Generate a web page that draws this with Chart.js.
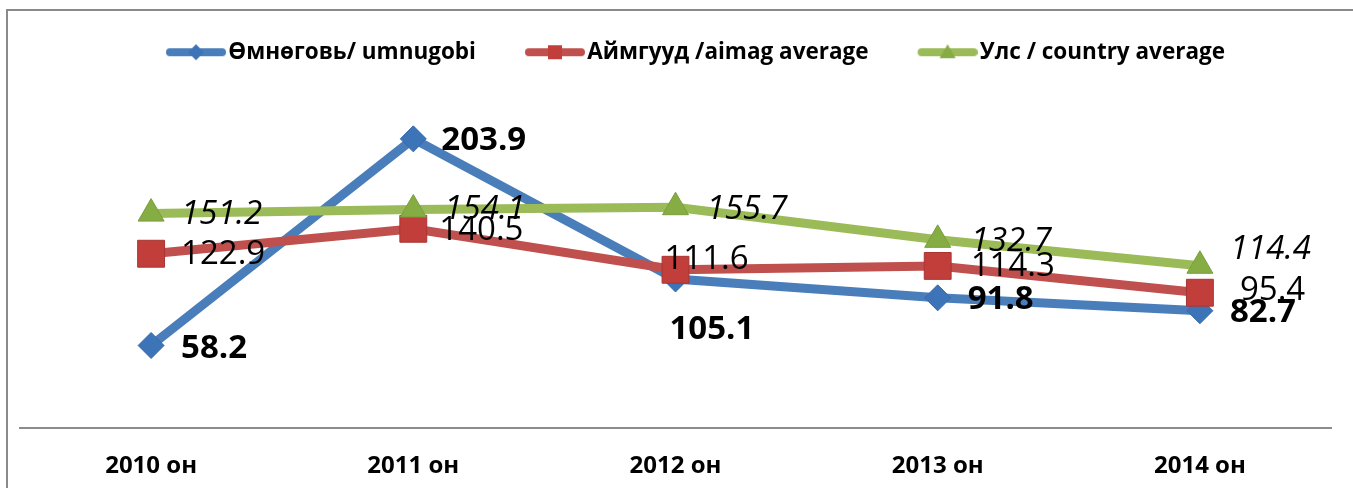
<!DOCTYPE html>
<html>
<head>
<meta charset="utf-8">
<script src="https://cdn.jsdelivr.net/npm/chart.js@4.4.1/dist/chart.umd.min.js"></script>
<style>
  html, body { margin: 0; padding: 0; background: #fff; overflow: hidden; }
  canvas { display: block; }
</style>
</head>
<body>
<canvas id="myChart" width="1353" height="488"></canvas>
<script>
const categories = ["2010 он", "2011 он", "2012 он", "2013 он", "2014 он"];
const umnugobi = [58.2, 203.9, 105.1, 91.8, 82.7];
const aimagAverage = [122.9, 140.5, 111.6, 114.3, 95.4];
const countryAverage = [151.2, 154.1, 155.7, 132.7, 114.4];
const seriesNames = ["Өмнөговь/ umnugobi", "Аймгууд /aimag average", "Улс / country average"];

const ctx = document.getElementById("myChart");
const fuente = "'Open Sans', 'Noto Sans', sans-serif";

// muestra de leyenda: linea gruesa con el marcador en medio
const muestraLeyenda = (color, marcador, forma) => {
  const c = document.createElement("canvas");
  c.width = 111;
  c.height = 24;
  const g = c.getContext("2d");
  g.strokeStyle = color;
  g.lineWidth = 8;
  g.lineCap = "round";
  g.beginPath();
  g.moveTo(55, 12);
  g.lineTo(107, 12);
  g.stroke();
  g.fillStyle = marcador;
  g.beginPath();
  if (forma === "rombo") {
    g.moveTo(81, 4); g.lineTo(89, 12); g.lineTo(81, 20); g.lineTo(73, 12);
  } else if (forma === "cuadro") {
    g.rect(74, 5, 14, 14);
  } else {
    g.moveTo(81, 4); g.lineTo(89, 18); g.lineTo(73, 18);
  }
  g.closePath();
  g.fill();
  return c;
};

const muestras = [
  muestraLeyenda("#4A7EBB", "#3D74B8", "rombo"),
  muestraLeyenda("#C0504D", "#C23E3B", "cuadro"),
  muestraLeyenda("#9BBB59", "#86AC44", "triangulo"),
];

const marco = {
  id: "marco",
  beforeDraw(chart) {
    const c = chart.ctx;
    c.save();
    c.strokeStyle = "#8A8A8A";
    c.lineWidth = 2;
    c.beginPath();
    c.moveTo(7, 488);
    c.lineTo(7, 10);
    c.lineTo(1353, 10);
    c.stroke();
    c.restore();
  },
};

const etiquetas = {
  id: "etiquetas",
  afterDatasetsDraw(chart) {
    const c = chart.ctx;
    chart.data.datasets.forEach((ds, i) => {
      const meta = chart.getDatasetMeta(i);
      c.save();
      c.font = ds.labelFont;
      c.fillStyle = "#000";
      c.textBaseline = "middle";
      c.textAlign = "left";
      meta.data.forEach((pt, j) => {
        const [dx, dy] = ds.labelShift[j];
        c.fillText(ds.data[j].toFixed(1), pt.x + dx, pt.y + dy);
      });
      c.restore();
    });
  },
};

new Chart(ctx, {
  type: "line",
  data: {
    labels: categories,
    datasets: [
      {
        label: seriesNames[0],
        data: umnugobi,
        borderColor: "#4A7EBB",
        backgroundColor: "#3D74B8",
        pointBackgroundColor: "#3D74B8",
        pointBorderColor: "#356AAE",
        pointBorderWidth: 1,
        pointStyle: "rectRot",
        pointRadius: 13,
        borderWidth: 9,
        order: 3,
        labelFont: "bold 33px " + fuente,
        labelShift: [[30, 3], [28, 2], [-6, 51], [30, 2], [30, 2]],
      },
      {
        label: seriesNames[1],
        data: aimagAverage,
        borderColor: "#C0504D",
        backgroundColor: "#C23E3B",
        pointBackgroundColor: "#C23E3B",
        pointBorderColor: "#A83532",
        pointBorderWidth: 1,
        pointStyle: "rect",
        pointRadius: 19,
        borderWidth: 9,
        order: 2,
        labelFont: "33px " + fuente,
        labelShift: [[30, 1], [26, 2], [-11, -10], [33, 1], [40, -2]],
      },
      {
        label: seriesNames[2],
        data: countryAverage,
        borderColor: "#9BBB59",
        backgroundColor: "#86AC44",
        pointBackgroundColor: "#86AC44",
        pointBorderColor: "#7A9E3C",
        pointBorderWidth: 1,
        pointStyle: "triangle",
        pointRadius: 15,
        borderWidth: 9,
        order: 1,
        labelFont: "italic 33px " + fuente,
        labelShift: [[30, 1], [31, 0], [31, 2], [33, 2], [30, -16]],
      },
    ],
  },
  options: {
    responsive: false,
    animation: false,
    layout: { padding: { left: 18, right: 22, top: 34, bottom: 9 } },
    scales: {
      x: {
        offset: true,
        grid: { display: false, drawTicks: false },
        border: { display: true, color: "#8C8C8C", width: 2 },
        ticks: {
          padding: 24,
          color: "#000",
          font: { family: fuente, size: 24, weight: "bold" },
        },
        afterFit: (scale) => {
          scale.height = 51;
        },
      },
      y: { display: false, min: 0, max: 250 },
    },
    plugins: {
      tooltip: { enabled: false },
      legend: {
        position: "top",
        labels: {
          usePointStyle: true,
          pointStyleWidth: 93,
          padding: 7,
          color: "#000",
          font: { family: fuente, size: 22.5, weight: "bold" },
          generateLabels: (chart) =>
            chart.data.datasets.map((ds, i) => ({
              text: ds.label,
              pointStyle: muestras[i],
              fillStyle: ds.borderColor,
              strokeStyle: ds.borderColor,
              lineWidth: 0,
              fontColor: "#000",
              hidden: false,
              datasetIndex: i,
            })),
        },
      },
    },
  },
  plugins: [marco, etiquetas],
});
</script>
</body>
</html>
